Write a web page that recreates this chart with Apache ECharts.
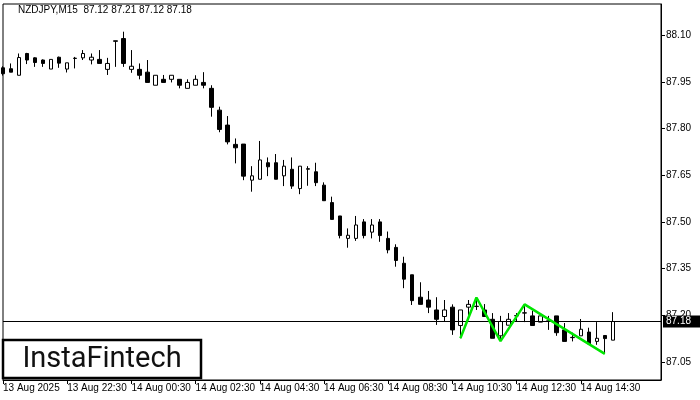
<!DOCTYPE html>
<html><head><meta charset="utf-8">
<script src="https://cdn.jsdelivr.net/npm/echarts@6/dist/echarts.min.js"></script>
<style>html,body{margin:0;padding:0;background:#fff}#c{width:700px;height:400px}</style>
</head><body><div id="c"></div>
<script>
const titleText = 'NZDJPY,M15  87.12 87.21 87.12 87.18';
const logoText = 'InstaFintech';
const opens = [87.995,87.992,87.971,88.041,88.027,88.020,87.991,88.029,87.991,88.025,
  88.027,88.020,88.022,87.990,88.080,88.089,87.990,87.990,87.981,87.939,
  87.958,87.958,87.958,87.929,87.939,87.948,87.929,87.859,87.811,87.749,
  87.750,87.634,87.637,87.690,87.690,87.648,87.669,87.607,87.669,87.661,
  87.618,87.562,87.519,87.447,87.447,87.500,87.467,87.500,87.447,87.418,
  87.367,87.330,87.258,87.249,87.217,87.196,87.226,87.167,87.226,87.228,
  87.217,87.187,87.134,87.168,87.198,87.207,87.198,87.178,87.182,87.198,
  87.153,87.128,87.134,87.146,87.116,87.135,87.120];
const highs = [88.000,88.009,88.041,88.043,88.029,88.022,88.022,88.031,88.011,88.030,
  88.052,88.041,88.052,88.027,88.082,88.111,88.052,88.009,88.020,87.971,
  87.972,87.971,87.958,87.958,87.971,87.981,87.939,87.870,87.840,87.768,
  87.750,87.679,87.760,87.707,87.718,87.699,87.707,87.679,87.679,87.690,
  87.627,87.581,87.519,87.479,87.519,87.509,87.509,87.509,87.469,87.428,
  87.388,87.330,87.306,87.278,87.258,87.249,87.235,87.217,87.249,87.257,
  87.236,87.207,87.198,87.207,87.207,87.235,87.214,87.198,87.198,87.198,
  87.175,87.144,87.188,87.160,87.178,87.135,87.210];
const lows = [87.970,87.981,87.971,88.007,87.998,87.998,87.991,87.995,87.980,87.993,
  88.020,88.006,88.009,87.972,87.998,87.998,87.979,87.958,87.948,87.939,
  87.948,87.948,87.929,87.929,87.939,87.929,87.838,87.788,87.749,87.688,
  87.634,87.597,87.637,87.647,87.637,87.615,87.606,87.589,87.616,87.615,
  87.568,87.508,87.447,87.417,87.439,87.447,87.447,87.436,87.399,87.356,
  87.287,87.233,87.235,87.207,87.169,87.180,87.137,87.126,87.201,87.217,
  87.196,87.126,87.117,87.168,87.180,87.178,87.167,87.178,87.153,87.134,
  87.116,87.116,87.134,87.108,87.105,87.076,87.120];
const closes = [87.976,87.981,88.028,88.020,88.012,88.009,88.022,88.010,88.011,88.026,
  88.041,88.029,88.009,88.009,88.082,88.009,88.000,87.971,87.948,87.971,
  87.948,87.971,87.939,87.948,87.958,87.939,87.868,87.797,87.757,87.738,
  87.647,87.648,87.699,87.677,87.637,87.679,87.615,87.679,87.671,87.626,
  87.568,87.508,87.456,87.457,87.490,87.456,87.490,87.456,87.410,87.376,
  87.316,87.247,87.235,87.226,87.187,87.217,87.153,87.217,87.235,87.229,
  87.196,87.126,87.180,87.187,87.199,87.208,87.167,87.198,87.180,87.144,
  87.116,87.129,87.155,87.108,87.126,87.125,87.180];
const tickLabels = ['13 Aug 2025','13 Aug 22:30','14 Aug 00:30','14 Aug 02:30','14 Aug 04:30',
  '14 Aug 06:30','14 Aug 08:30','14 Aug 10:30','14 Aug 12:30','14 Aug 14:30'];
const priceTicks = [87.05,87.20,87.35,87.50,87.65,87.80,87.95,88.10];
const currentPrice = 87.18;
const patternIdx = [57,59,62,65,75];
const patternVals = [87.126,87.257,87.117,87.235,87.076];
const futureBars = 6;
const barsPerLabel = 8;

const nBars = opens.length;
const cats = [];
const startMin = 20*60+30;
for (let i = 0; i < nBars + futureBars; i++) {
  const t = startMin + i*15;
  const day = 13 + Math.floor(t/1440);
  const m = t % 1440;
  cats.push(day + ' Aug ' + String(Math.floor(m/60)).padStart(2,'0') + ':' + String(m%60).padStart(2,'0'));
}
const ohlc = opens.map((o,i)=>[o, closes[i], lows[i], highs[i]]);
const showTick = (i) => i % barsPerLabel === 0 && i/barsPerLabel < tickLabels.length;
const F = '"Liberation Sans", Arial, sans-serif';

const chart = echarts.init(document.getElementById('c'), null, {renderer:'canvas'});
chart.setOption({
  animation: false,
  backgroundColor: '#fff',
  grid: {left: 3, right: 39, top: 4, bottom: 20, show: true, borderColor: '#000', borderWidth: 1, backgroundColor: 'transparent'},
  xAxis: {
    type: 'category', data: cats, boundaryGap: false,
    axisLine: {lineStyle: {color: '#000', width: 1}},
    axisTick: {interval: (i)=>showTick(i), length: 4, lineStyle: {color: '#000'}},
    axisLabel: {interval: (i)=>showTick(i), formatter: (v,i)=>tickLabels[i/barsPerLabel] || '',
      align: 'left', fontSize: 10, fontFamily: F, color: '#000', margin: 3},
    splitLine: {show: false}
  },
  yAxis: {
    type: 'value', position: 'right', min: 86.992, max: 88.200, scale: true,
    axisLine: {show: true, lineStyle: {color: '#000', width: 1}},
    axisTick: {show: true, customValues: priceTicks, length: 4, lineStyle: {color: '#000'}},
    axisLabel: {customValues: priceTicks, formatter: (v)=>Number(v).toFixed(2), fontSize: 10, fontFamily: F, color: '#000', margin: 5},
    splitLine: {show: false}
  },
  series: [{
    type: 'candlestick', data: ohlc, barWidth: 4,
    itemStyle: {color: '#fff', color0: '#000', borderColor: '#000', borderColor0: '#000', borderWidth: 1},
    markLine: {
      silent: true, symbol: ['none','none'], animation: false,
      lineStyle: {color: '#000', width: 1, type: 'solid'},
      label: {position: 'end', formatter: currentPrice.toFixed(2), backgroundColor: '#000', color: '#fff',
        padding: [1,10,1,3], fontSize: 10, fontFamily: F, distance: 2},
      data: [{yAxis: currentPrice}]
    }
  }, {
    type: 'line', data: patternIdx.map((x,k)=>[x, patternVals[k]]), symbol: 'none', z: 5,
    lineStyle: {color: '#00e600', width: 2.5}
  }],
  graphic: [
    {type: 'text', left: 18, top: 5, z: 10, style: {text: titleText, font: '10px ' + F, fill: '#000'}},
    {type: 'rect', z: 10, shape: {x: 3, y: 340, width: 198, height: 38}, style: {fill: '#fff', stroke: '#000', lineWidth: 2.5}},
    {type: 'text', z: 11, x: 102, y: 360, style: {text: logoText, font: '29px Roboto', fill: '#111', align: 'center', verticalAlign: 'middle'}}
  ]
});
</script></body></html>
